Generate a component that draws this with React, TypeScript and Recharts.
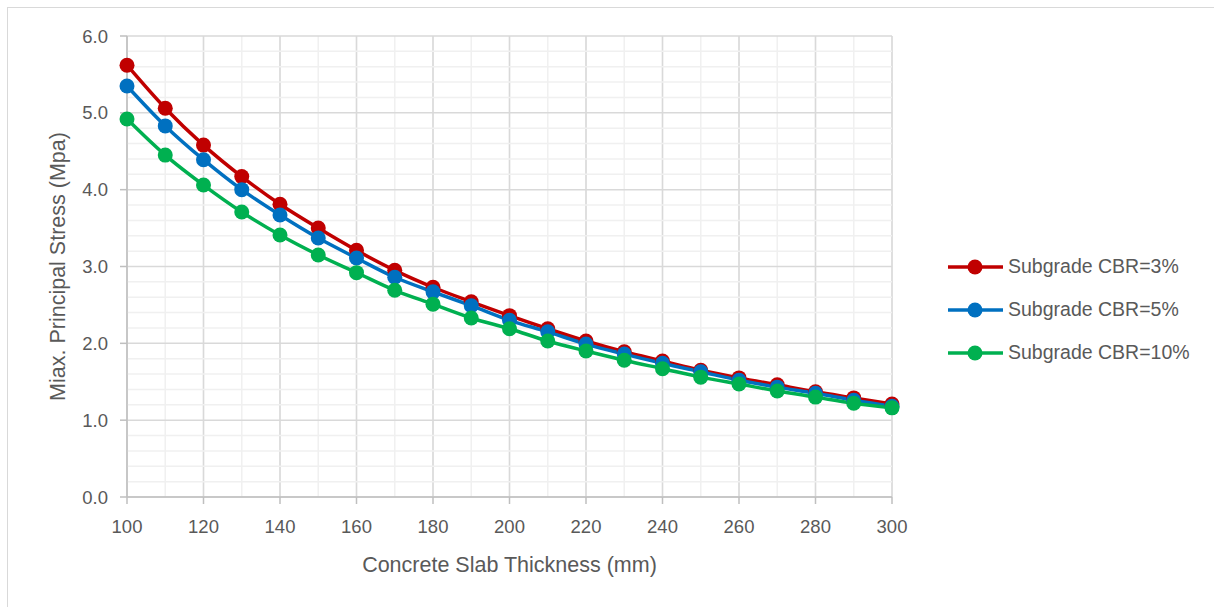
import { CartesianGrid, Line, LineChart, ReferenceLine, XAxis, YAxis } from 'recharts'

const thickness = [100, 110, 120, 130, 140, 150, 160, 170, 180, 190, 200, 210, 220, 230, 240, 250, 260, 270, 280, 290, 300]

const cbr3 = [5.62, 5.06, 4.58, 4.17, 3.81, 3.5, 3.21, 2.95, 2.73, 2.54, 2.36, 2.19, 2.03, 1.89, 1.77, 1.65, 1.55, 1.46, 1.37, 1.29, 1.21]
const cbr5 = [5.35, 4.83, 4.39, 4.0, 3.67, 3.37, 3.11, 2.86, 2.67, 2.49, 2.3, 2.15, 1.99, 1.86, 1.74, 1.63, 1.52, 1.43, 1.35, 1.26, 1.18]
const cbr10 = [4.92, 4.45, 4.06, 3.71, 3.41, 3.15, 2.92, 2.69, 2.51, 2.33, 2.19, 2.03, 1.9, 1.78, 1.67, 1.56, 1.47, 1.38, 1.3, 1.22, 1.16]

const xTicks = [100, 120, 140, 160, 180, 200, 220, 240, 260, 280, 300]
const yTicks = [0, 1, 2, 3, 4, 5, 6]
const xMinor = thickness
// minor horizontal gridlines between the major ones
const yMinor = [
  0.2, 0.4, 0.6, 0.8, 1.2, 1.4, 1.6, 1.8, 2.2, 2.4, 2.6, 2.8, 3.2, 3.4, 3.6, 3.8, 4.2, 4.4, 4.6, 4.8, 5.2, 5.4,
  5.6, 5.8,
]

const series = [
  { key: 'cbr3', name: 'Subgrade CBR=3%', color: '#c00000' },
  { key: 'cbr5', name: 'Subgrade CBR=5%', color: '#0070c0' },
  { key: 'cbr10', name: 'Subgrade CBR=10%', color: '#00b050' },
]

const data = thickness.map((t, i) => ({ t, cbr3: cbr3[i], cbr5: cbr5[i], cbr10: cbr10[i] }))

const font = 'Liberation Sans, Arial, sans-serif'
const textColor = '#595959'

function LegendBox() {
  return (
    <div style={{ position: 'absolute', left: 945, top: 245, width: 268, fontFamily: font, fontSize: 19.5, color: textColor }}>
      {series.map((s) => (
        <div key={s.key} style={{ display: 'flex', alignItems: 'center', height: 43 }}>
          <svg width={60} height={20}>
            <line x1={3} y1={10} x2={58} y2={10} stroke={s.color} strokeWidth={3.5} />
            <circle cx={30} cy={10} r={7.5} fill={s.color} />
          </svg>
          <span style={{ marginLeft: 3 }}>{s.name}</span>
        </div>
      ))}
    </div>
  )
}

export default function App() {
  return (
    <div style={{ position: 'absolute', left: 0, top: 0, width: 1214, height: 607, background: '#fff' }}>
      <div
        style={{
          position: 'absolute',
          left: 7,
          top: 7,
          right: 0,
          bottom: 0,
          borderTop: '1.5px solid #d9d9d9',
          borderLeft: '1.5px solid #d9d9d9',
        }}
      />
      <LineChart
        width={1214}
        height={607}
        data={data}
        margin={{ top: 36, right: 322, bottom: 70, left: 47 }}
        style={{ position: 'absolute', left: 0, top: 0 }}
      >
        <CartesianGrid xAxisId='minor' horizontal={false} stroke='#f0f0f0' strokeWidth={1.5} />
        <CartesianGrid stroke='#d9d9d9' strokeWidth={1.5} />
        <XAxis xAxisId='minor' dataKey='t' type='number' domain={[100, 300]} ticks={xMinor} interval={0} hide />
        <XAxis
          dataKey='t'
          type='number'
          domain={[100, 300]}
          ticks={xTicks}
          interval={0}
          stroke='#bfbfbf'
          strokeWidth={1.5}
          tickSize={7}
          height={40}
          tick={{ fill: textColor, fontSize: 18.5, fontFamily: font, dy: 14 }}
          label={{
            value: 'Concrete Slab Thickness (mm)',
            position: 'insideBottom',
            offset: -35,
            fill: textColor,
            fontSize: 21.5,
            fontFamily: font,
          }}
        />
        <YAxis
          type='number'
          domain={[0, 6]}
          ticks={yTicks}
          interval={0}
          stroke='#bfbfbf'
          strokeWidth={1.5}
          tickSize={7}
          width={80}
          tickFormatter={(v) => v.toFixed(1)}
          tick={{ fill: textColor, fontSize: 18.5, fontFamily: font, dx: -10 }}
          label={{
            value: 'Miax. Principal Stress (Mpa)',
            angle: -90,
            position: 'insideLeft',
            offset: 10,
            style: { textAnchor: 'middle' },
            fill: textColor,
            fontSize: 21.5,
            fontFamily: font,
          }}
        />
        {yMinor.map((v) => (
          <ReferenceLine key={v} y={v} stroke='#f0f0f0' strokeWidth={1.5} />
        ))}
        {series.map((s) => (
          <Line
            key={s.key}
            dataKey={s.key}
            name={s.name}
            type='monotone'
            stroke={s.color}
            strokeWidth={3.5}
            dot={{ r: 7.5, fill: s.color, stroke: s.color, strokeWidth: 0 }}
            isAnimationActive={false}
          />
        ))}
      </LineChart>
      <LegendBox />
    </div>
  )
}
